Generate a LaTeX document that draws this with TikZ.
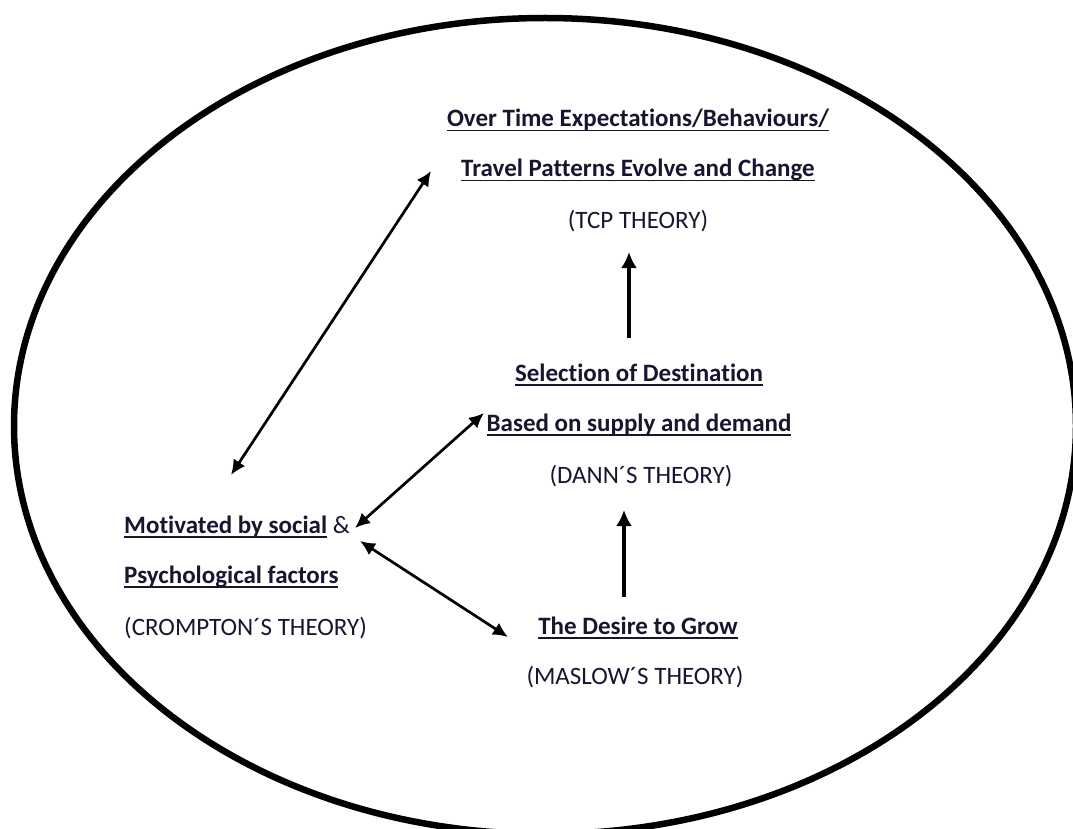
\documentclass[tikz,border=0pt]{standalone}
\usepackage{fontspec}
\setmainfont[Ligatures={NoCommon}]{Carlito}
\usetikzlibrary{arrows.meta}
\definecolor{ink}{RGB}{22,22,48}
% underline drawn as a rule below the word box
\newcommand{\ulbox}[1]{{\setbox0\hbox{#1}\rlap{\rule[-4.5pt]{\wd0}{1.9pt}}\box0}}
\begin{document}
\begin{tikzpicture}[x=1pt,y=-1pt,
  txt/.style={inner sep=0pt, text=ink, font=\fontsize{25}{29}\selectfont, anchor=base},
  hd/.style={txt, font=\fontsize{25}{29}\selectfont\bfseries},
  link/.style={line width=2.7pt, {Latex[length=15pt,width=14pt]}-{Latex[length=15pt,width=14pt]}},
  up/.style={line width=4pt, -{Latex[length=16pt,width=16pt]}}]
\useasboundingbox (0,0) rectangle (1073,829);
\clip (0,0) rectangle (1073,829);

% outer ellipse
\draw[line width=6.5pt] (545,426) ellipse [x radius=531, y radius=408];

% TCP theory
\node[hd] (tcpA) at (638,127) {\ulbox{Over Time Expectations/Behaviours/}};
\node[hd] (tcpB) at (638,177) {\ulbox{Travel Patterns Evolve and Change}};
\node[txt] (tcpC) at (638,228) {(TCP THEORY)};

% Dann's theory
\node[hd] (dannA) at (639,381) {\ulbox{Selection of Destination}};
\node[hd] (dannB) at (639,431) {\ulbox{Based on supply and demand}};
\node[txt] (dannC) at (641,483) {(DANN´S THEORY)};

% Crompton's theory
\node[hd, anchor=base west] (cromA) at (124,533) {\ulbox{Motivated by social}\mdseries\ \&};
\node[hd, anchor=base west] (cromB) at (124,583) {\ulbox{Psychological factors}};
\node[txt, anchor=base west] (cromC) at (124,635) {(CROMPTON´S THEORY)};

% Maslow's theory
\node[hd] (maslA) at (638,634) {\ulbox{The Desire to Grow}};
\node[txt] (maslB) at (635,684) {(MASLOW´S THEORY)};

% arrow end points
\coordinate (tcpIn) at (431,171);
\coordinate (cromTop) at (231,475);
\coordinate (cromR1) at (355,528);
\coordinate (dannIn) at (484,413);
\coordinate (cromR2) at (360,541);
\coordinate (maslIn) at (508,637);
\coordinate (maslUp) at (624,597);
\coordinate (dannBot) at (624,510);
\coordinate (dannUp) at (629,338);
\coordinate (tcpBot) at (629,252);

% connectors
\draw[link] (cromTop) -- (tcpIn);
\draw[link] (cromR1) -- (dannIn);
\draw[link] (cromR2) -- (maslIn);
\draw[up] (maslUp) -- (dannBot);
\draw[up] (dannUp) -- (tcpBot);
\end{tikzpicture}
\end{document}
